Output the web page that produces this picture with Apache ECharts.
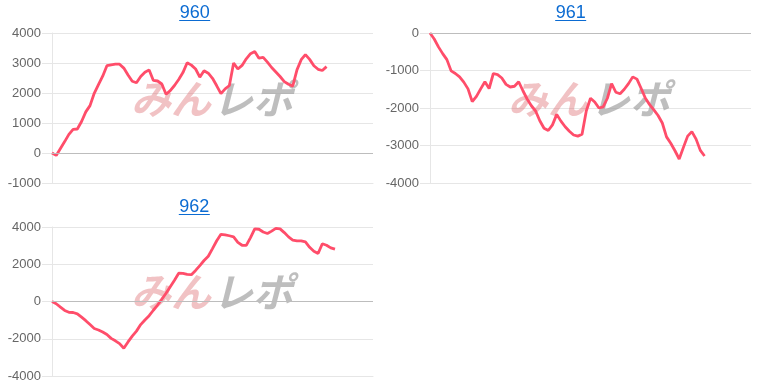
<!DOCTYPE html>
<html><head><meta charset="utf-8">
<script src="https://cdn.jsdelivr.net/npm/echarts@6/dist/echarts.min.js"></script>
<style>html,body{margin:0;padding:0;background:#fff}#c{width:760px;height:388px}</style>
</head><body><div id="c"></div>
<script>
// ---- data ----
const slotCount = 77;
const categories = Array.from({length: slotCount}, (_, i) => String(i + 1));
const titles = ['960', '961', '962'];
const s960 = [0,-80,150,380,620,790,800,1050,1370,1580,
  1990,2280,2560,2910,2940,2960,2960,2830,2600,2390,
  2340,2550,2690,2770,2420,2400,2300,1960,2080,2250,
  2450,2680,3010,2930,2800,2530,2740,2660,2490,2240,
  1980,2140,2250,3000,2800,2920,3140,3310,3380,3160,
  3190,3030,2850,2700,2550,2380,2290,2230,2770,3110,
  3280,3120,2910,2790,2750,2880];
const s961 = [0,-160,-370,-550,-710,-1010,-1080,-1170,-1310,-1490,
  -1830,-1690,-1490,-1300,-1480,-1080,-1110,-1200,-1370,-1440,
  -1420,-1300,-1540,-1760,-1940,-2080,-2340,-2540,-2600,-2450,
  -2170,-2350,-2500,-2620,-2720,-2750,-2700,-2080,-1740,-1840,
  -2000,-1970,-1740,-1350,-1580,-1620,-1500,-1350,-1170,-1230,
  -1480,-1740,-1910,-2050,-2200,-2400,-2770,-2940,-3140,-3360,
  -3050,-2750,-2630,-2830,-3130,-3280];
const s962 = [0,-120,-300,-480,-580,-590,-660,-840,-1030,-1240,
  -1450,-1530,-1640,-1770,-1980,-2110,-2260,-2510,-2170,-1860,
  -1590,-1240,-990,-760,-470,-190,120,440,790,1140,
  1520,1510,1460,1440,1670,1930,2200,2430,2840,3260,
  3610,3580,3530,3470,3180,3020,3010,3430,3900,3880,
  3730,3650,3780,3930,3900,3700,3470,3300,3260,3250,
  3200,2910,2700,2580,3100,3020,2880,2810];
const ticks960 = [-1000, 0, 1000, 2000, 3000, 4000];
const ticks961 = [-4000, -3000, -2000, -1000, 0];
const ticks962 = [-4000, -2000, 0, 2000, 4000];

// ---- chart ----
const seriesList = [s960, s961, s962];
const tickList = [ticks960, ticks961, ticks962];
const grids = [
  {left: 52, top: 33, width: 321, height: 150},
  {left: 430, top: 33, width: 321, height: 150},
  {left: 52, top: 227, width: 321, height: 149}
];
const gridColor = '#e6e6e6';
const lineColor = '#ff4d6a';
const titleColor = '#0b6bd2';
const font = '"Liberation Sans", Arial, Helvetica, sans-serif';

const xAxis = grids.map((g, i) => ({
  type: 'category', gridIndex: i, data: categories, boundaryGap: false,
  axisLine: {show: true, onZero: false, lineStyle: {color: gridColor}},
  axisTick: {show: false}, axisLabel: {show: false}, splitLine: {show: false}
}));
const yAxis = tickList.map((t, i) => ({
  type: 'value', gridIndex: i,
  min: t[0], max: t[t.length - 1], interval: t[1] - t[0],
  axisLine: {show: true, lineStyle: {color: gridColor}},
  axisTick: {show: true, length: 10, lineStyle: {color: gridColor}},
  axisLabel: {color: '#666', fontSize: 13, fontFamily: font, margin: 11,
    formatter: v => String(v)},
  splitLine: {show: true, lineStyle: {color: gridColor}}
}));
const series = seriesList.map((d, i) => ({
  type: 'line', xAxisIndex: i, yAxisIndex: i, data: d,
  showSymbol: false, smooth: false, z: 3,
  lineStyle: {color: lineColor, width: 2.8}, itemStyle: {color: lineColor},
  markLine: {
    silent: true, symbol: 'none', label: {show: false},
    lineStyle: {color: '#bdbdbd', width: 1, type: 'solid'},
    data: [{yAxis: 0}]
  }
}));

const titlePos = [[194.7, 13], [570.7, 13], [194.3, 207]];
const wmPos = [[212, 99], [589, 99], [212, 292]];
const graphics = [];
titles.forEach((t, i) => {
  const [cx, cy] = titlePos[i];
  graphics.push({type: 'text', x: cx, y: cy, z: 10,
    style: {text: t, fill: titleColor, font: '18px ' + font, textAlign: 'center', textVerticalAlign: 'middle'}});
  graphics.push({type: 'line', z: 10,
    shape: {x1: cx - 15.5, y1: cy + 7.5, x2: cx + 15.5, y2: cy + 7.5},
    style: {stroke: titleColor, lineWidth: 1}});
  const [wx, wy] = wmPos[i];
  graphics.push({type: 'text', x: wx - 1, y: wy, z: 1,
    style: {text: 'みん', fill: 'rgba(222,110,115,0.42)', font: 'italic bold 40px "Noto Sans CJK JP"', textAlign: 'right', textVerticalAlign: 'middle'}});
  graphics.push({type: 'text', x: wx + 1, y: wy, z: 1,
    style: {text: 'レポ', fill: 'rgba(150,150,150,0.62)', font: 'italic bold 40px "Noto Sans CJK JP"', textAlign: 'left', textVerticalAlign: 'middle'}});
});

const chart = echarts.init(document.getElementById('c'), null, {renderer: 'canvas'});
chart.setOption({
  animation: false,
  backgroundColor: '#fff',
  grid: grids,
  xAxis, yAxis, series,
  graphic: {elements: graphics}
});
</script></body></html>
